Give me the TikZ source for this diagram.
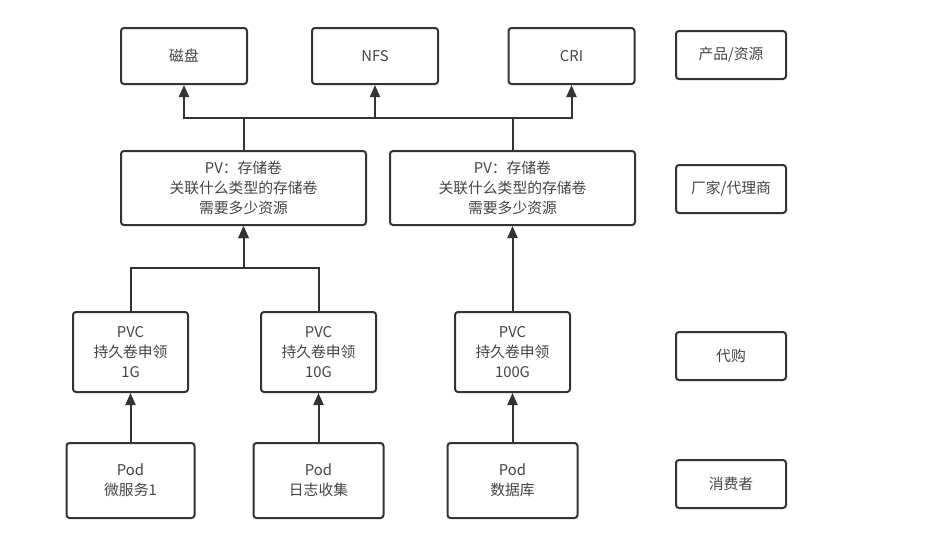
\documentclass[tikz,border=0pt]{standalone}
\usepackage{fontspec}
\setmainfont{Noto Sans CJK SC}
\usetikzlibrary{arrows.meta}
\definecolor{linegray}{HTML}{333333}
\definecolor{textgray}{HTML}{444444}

\begin{document}
\begin{tikzpicture}[x=1pt,y=-1pt,
		box/.style={draw=linegray,line width=2pt,rounded corners=3pt,fill=white,
			align=center,font=\fontsize{14.8}{20}\selectfont,text=textgray,inner sep=0pt},
		arr/.style={draw=linegray,line width=2pt,-{Triangle[length=12pt,width=10pt]}},
		bus/.style={draw=linegray,line width=2pt}]
		\useasboundingbox (0,0) rectangle (938,541);
		%
		\node[box,minimum width=126pt,minimum height=56pt] (disk) at (184,56) {磁盘};
		\node[box,minimum width=126pt,minimum height=56pt] (nfs) at (375,56) {NFS};
		\node[box,minimum width=126pt,minimum height=56pt] (cri) at (571.5,56) {CRI};
		%
		\node[box,minimum width=245pt,minimum height=74pt] (pv1) at (243.5,188) {PV：存储卷\\关联什么类型的存储卷\\需要多少资源};
		\node[box,minimum width=245pt,minimum height=74pt] (pv2) at (512.5,188) {PV：存储卷\\关联什么类型的存储卷\\需要多少资源};
		%
		\node[box,minimum width=115pt,minimum height=80pt] (pvc1) at (130.5,352) {PVC\\持久卷申领\\1G};
		\node[box,minimum width=115pt,minimum height=80pt] (pvc2) at (318.5,352) {PVC\\持久卷申领\\10G};
		\node[box,minimum width=115pt,minimum height=80pt] (pvc3) at (512.5,352) {PVC\\持久卷申领\\100G};
		%
		\node[box,minimum width=128pt,minimum height=75pt] (pod1) at (130.5,480.5) {Pod\\微服务1};
		\node[box,minimum width=130pt,minimum height=75pt] (pod2) at (318.5,480.5) {Pod\\日志收集};
		\node[box,minimum width=130pt,minimum height=75pt] (pod3) at (512.5,480.5) {Pod\\数据库};
		%
		\node[box,minimum width=110pt,minimum height=48pt] (product) at (731,55) {产品/资源};
		\node[box,minimum width=110pt,minimum height=48pt] (vendor) at (731,189) {厂家/代理商};
		\node[box,minimum width=110pt,minimum height=48pt] (proxy) at (731,356) {代购};
		\node[box,minimum width=110pt,minimum height=48pt] (consumer) at (731,484) {消费者};
		%
		\coordinate (upper) at (0,118);
		\coordinate (lower) at (0,268);
		%
		\draw[arr] (pv1.north) -- (pv1.north |- upper) -| (disk.south);
		\draw[arr] (pv1.north |- upper) -| (nfs.south);
		\draw[arr] (pv2.north) -- (pv2.north |- upper) -| (cri.south);
		\draw[bus] (pv2.north |- upper) -- (nfs.south |- upper);
		%
		\draw[arr] (pvc1.north) -- (pvc1.north |- lower) -| (pv1.south);
		\draw[arr] (pvc2.north) -- (pvc2.north |- lower) -| (pv1.south);
		\draw[arr] (pvc3.north) -- (pv2.south);
		%
		\draw[arr] (pod1.north) -- (pvc1.south);
		\draw[arr] (pod2.north) -- (pvc2.south);
		\draw[arr] (pod3.north) -- (pvc3.south);
	\end{tikzpicture}
\end{document}
